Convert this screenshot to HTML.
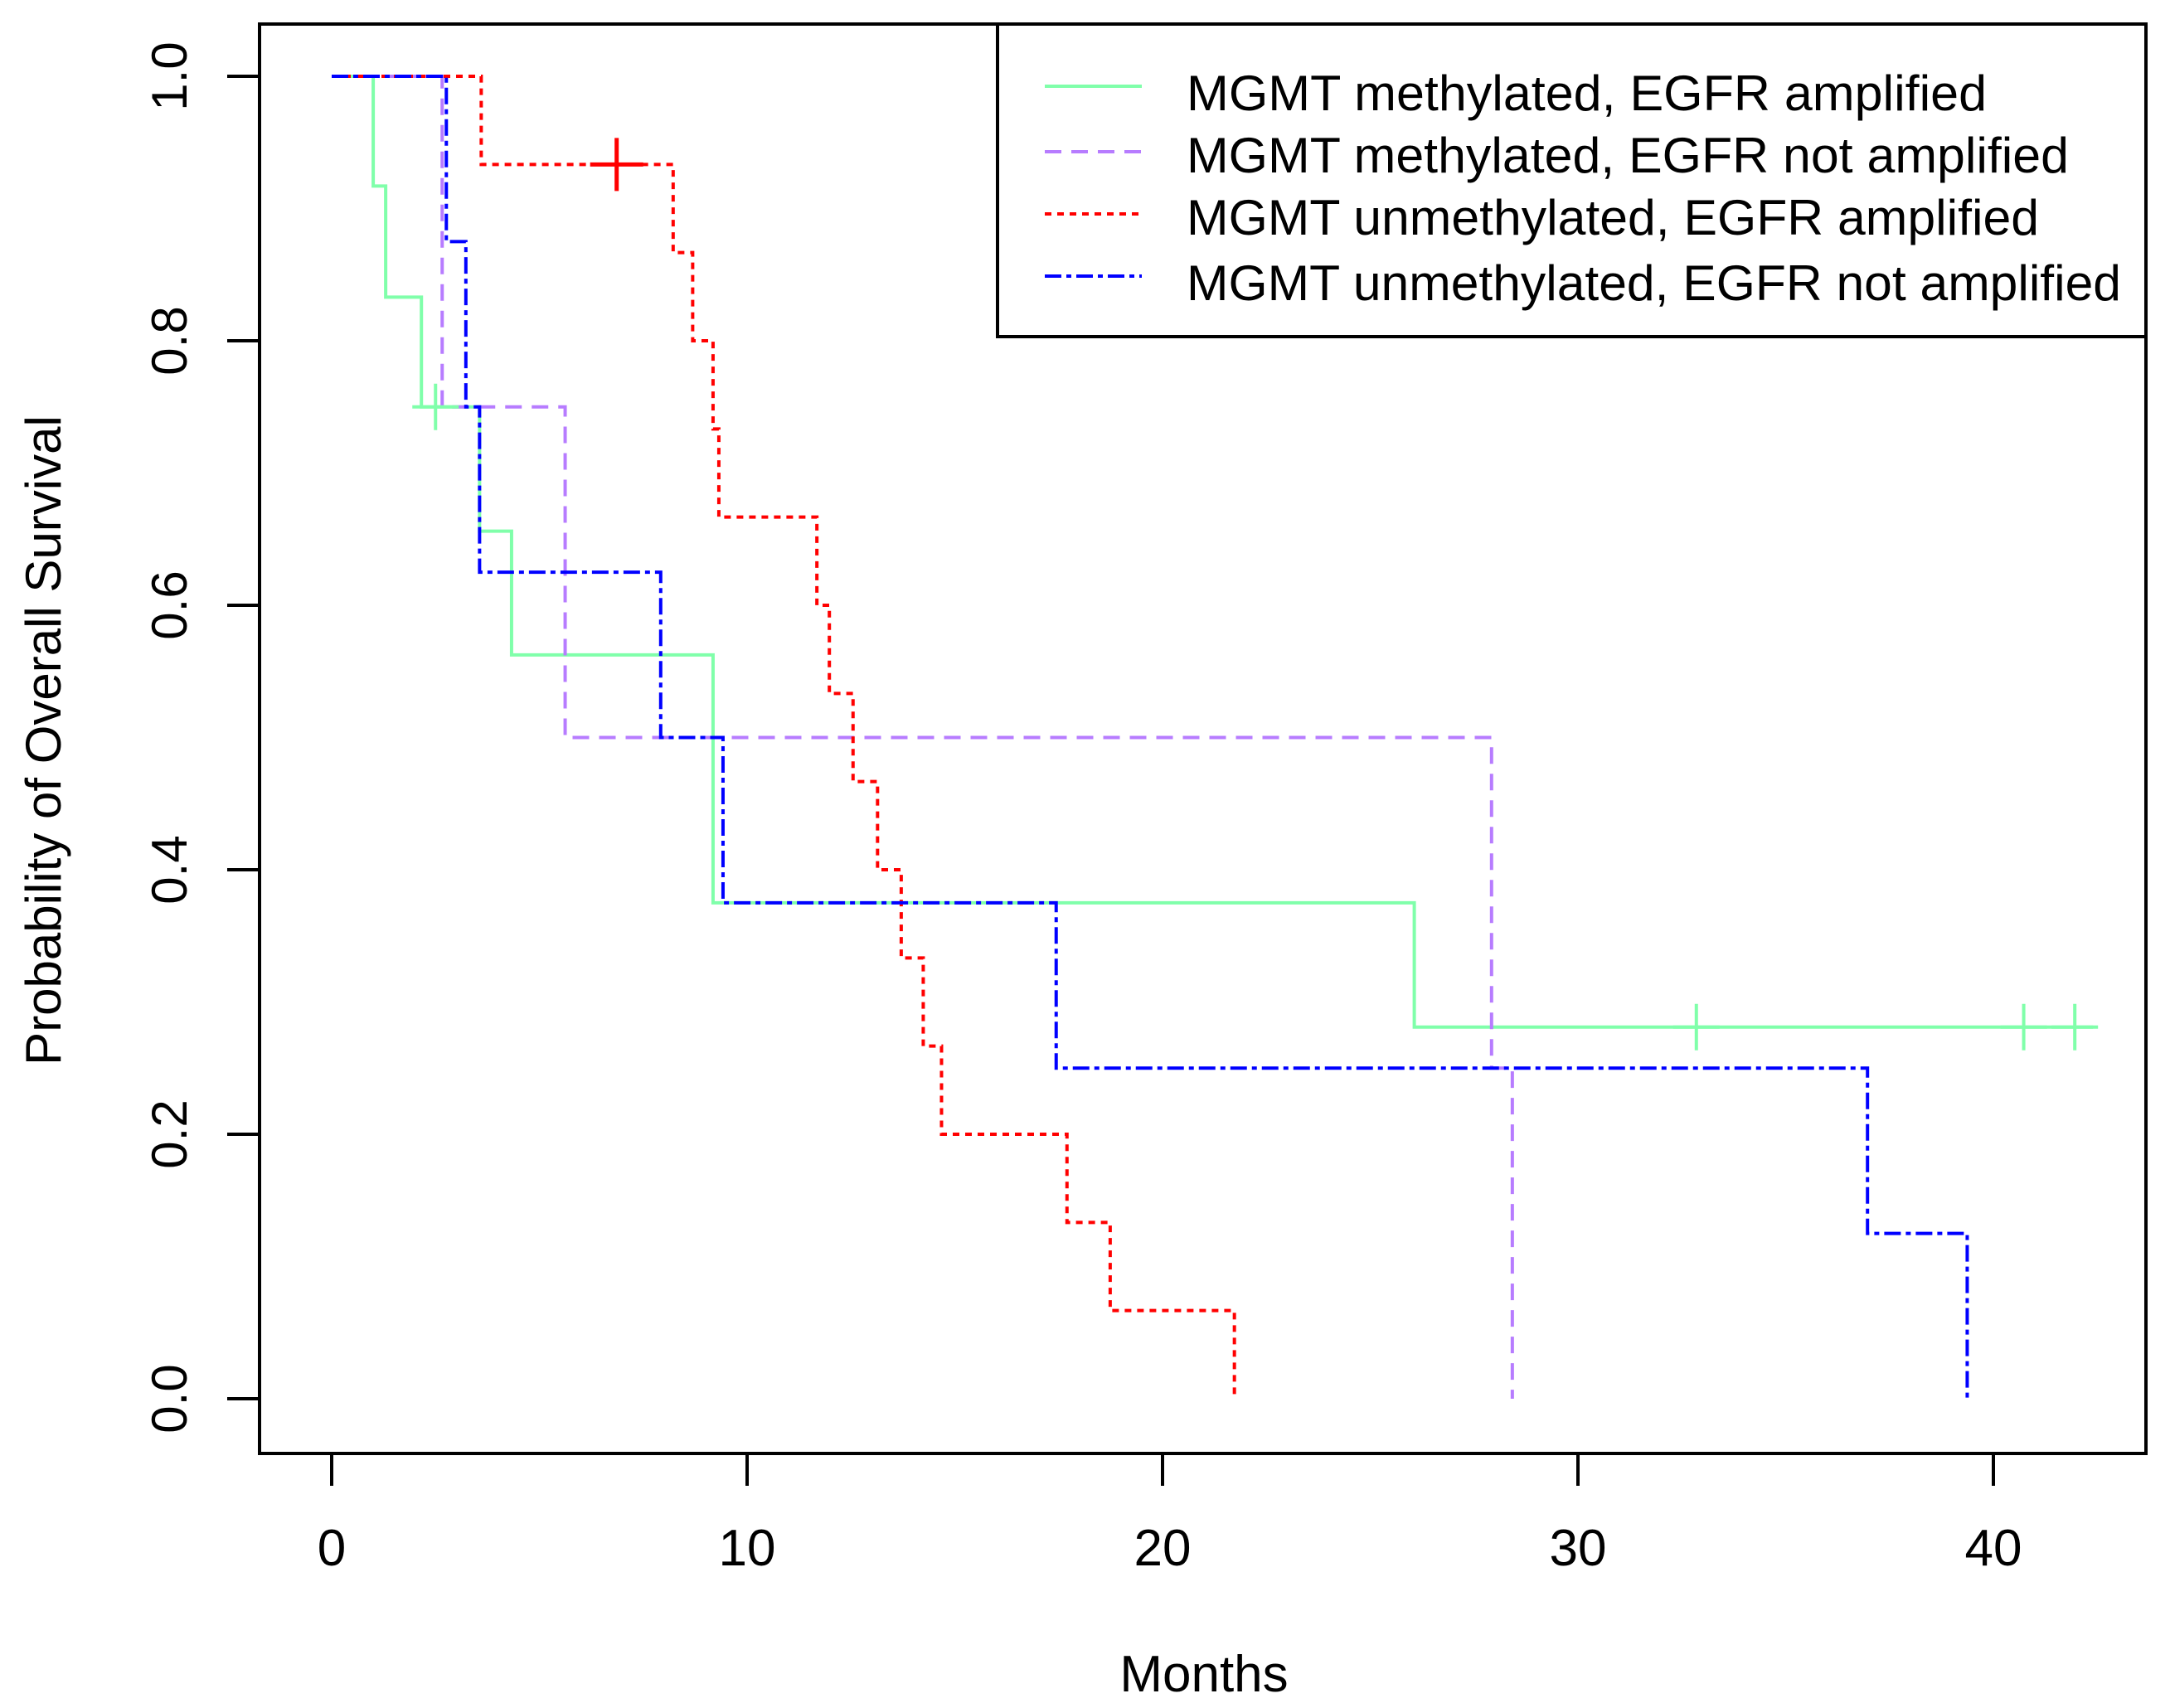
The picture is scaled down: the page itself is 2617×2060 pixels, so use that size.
<!DOCTYPE html>
<html><head><meta charset="utf-8"><style>html,body{margin:0;padding:0;background:#fff}svg{display:block}text{font-family:"Liberation Sans",Arial,sans-serif;fill:#000}</style></head>
<body>
<svg id="chart" width="2617" height="2060" viewBox="0 0 2617 2060" xmlns="http://www.w3.org/2000/svg">
<rect x="0" y="0" width="2617" height="2060" fill="#fff"/>
<g id="series"></g>
<rect x="313" y="29" width="2275" height="1724" fill="none" stroke="#000" stroke-width="4"/>
<g id="axes"></g>
<text x="1452" y="2040" font-size="62" text-anchor="middle">Months</text>
<text transform="translate(73,893) rotate(-90)" font-size="60" text-anchor="middle">Probability of Overall Survival</text>
<g>
<rect x="1203" y="29" width="1385" height="377" fill="#fff" stroke="#000" stroke-width="4"/>
<line x1="1260" y1="104" x2="1377" y2="104" stroke="#80ffaa" stroke-width="4"/>
<line x1="1260" y1="183" x2="1377" y2="183" stroke="#b77cff" stroke-width="4" stroke-dasharray="20 12"/>
<line x1="1260" y1="258" x2="1377" y2="258" stroke="#ff0000" stroke-width="4" stroke-dasharray="8 7"/>
<line x1="1260" y1="333" x2="1377" y2="333" stroke="#0000ff" stroke-width="4" stroke-dasharray="20 6 6 6"/>
<text x="1431" y="133" font-size="60" textLength="965" lengthAdjust="spacingAndGlyphs">MGMT methylated, EGFR amplified</text>
<text x="1431" y="208" font-size="60" textLength="1064" lengthAdjust="spacingAndGlyphs">MGMT methylated, EGFR not amplified</text>
<text x="1431" y="283" font-size="60" textLength="1028" lengthAdjust="spacingAndGlyphs">MGMT unmethylated, EGFR amplified</text>
<text x="1431" y="362" font-size="60" textLength="1127" lengthAdjust="spacingAndGlyphs">MGMT unmethylated, EGFR not amplified</text>
</g>
</svg>
<script>
const xTicks = [0, 10, 20, 30, 40];
const yTicks = [0, 0.2, 0.4, 0.6, 0.8, 1.0];
const yTickLabels = ["0.0", "0.2", "0.4", "0.6", "0.8", "1.0"];
const greenTimes = [1.0, 1.3, 2.16, 3.56, 4.33, 9.18, 26.06];
const greenSurv = [0.917, 0.833, 0.75, 0.656, 0.5625, 0.375, 0.281];
const greenEnd = 42.4;
const greenCensor = [2.5, 32.85, 40.73, 41.96];
const purpleTimes = [2.66, 5.62, 27.92, 28.42];
const purpleSurv = [0.75, 0.5, 0.25, 0.0];
const redTimes = [3.6, 8.22, 8.69, 9.18, 9.32, 11.68, 11.98, 12.55, 13.14, 13.71, 14.24, 14.68, 17.7, 18.74, 21.73];
const redSurv = [0.9333, 0.8667, 0.8, 0.7333, 0.6667, 0.6, 0.5333, 0.4667, 0.4, 0.3333, 0.2667, 0.2, 0.1333, 0.0667, 0.0];
const redCensor = [6.86];
const blueTimes = [2.76, 3.23, 3.56, 7.92, 9.42, 17.44, 36.97, 39.37];
const blueSurv = [0.875, 0.75, 0.625, 0.5, 0.375, 0.25, 0.125, 0.0];

const NS = "http://www.w3.org/2000/svg";
function xs(m){ return 400 + m * 50.1; }
function ys(p){ return 1687 - p * 1595; }
const series = document.getElementById('series');
const axes = document.getElementById('axes');

function stepPath(times, surv, end){
  let d = "M" + xs(0) + "," + ys(1);
  let prev = 1;
  for (let i = 0; i < times.length; i++){
    d += " L" + xs(times[i]) + "," + ys(prev) + " L" + xs(times[i]) + "," + ys(surv[i]);
    prev = surv[i];
  }
  if (end !== undefined) d += " L" + xs(end) + "," + ys(prev);
  return d;
}
function survAt(times, surv, t){
  let s = 1;
  for (let i = 0; i < times.length; i++) if (times[i] <= t) s = surv[i];
  return s;
}
function addSeries(name, times, surv, end, color, dash){
  const p = document.createElementNS(NS, 'path');
  p.setAttribute('d', stepPath(times, surv, end));
  p.setAttribute('fill', 'none');
  p.setAttribute('stroke', color);
  p.setAttribute('stroke-width', '4');
  if (dash) p.setAttribute('stroke-dasharray', dash);
  
  
  series.appendChild(p);
}
function addCensor(name, t, s, color, big){
  const h = big ? 32 : 28;
  const cx = xs(t), cy = ys(s);
  const v = document.createElementNS(NS, 'path');
  v.setAttribute('d', "M" + cx + "," + (cy - h) + " L" + cx + "," + (cy + h) + " M" + (cx - h) + "," + cy + " L" + (cx + h) + "," + cy);
  v.setAttribute('stroke', color);
  v.setAttribute('stroke-width', big ? '5' : '4');
  v.setAttribute('fill', 'none');
  
  
  series.appendChild(v);
}
addSeries('green-curve', greenTimes, greenSurv, greenEnd, '#80ffaa', null);
addSeries('purple-curve', purpleTimes, purpleSurv, undefined, '#b77cff', '20 12');
addSeries('red-curve', redTimes, redSurv, undefined, '#ff0000', '8 7');
addSeries('blue-curve', blueTimes, blueSurv, undefined, '#0000ff', '20 6 6 6');
greenCensor.forEach(t => addCensor('green-censor-mark', t, survAt(greenTimes, greenSurv, t), '#80ffaa', false));
redCensor.forEach(t => addCensor('red-censor-mark', t, survAt(redTimes, redSurv, t), '#ff0000', true));

xTicks.forEach(v => {
  const l = document.createElementNS(NS, 'line');
  l.setAttribute('x1', xs(v)); l.setAttribute('x2', xs(v));
  l.setAttribute('y1', 1753); l.setAttribute('y2', 1792);
  l.setAttribute('stroke', '#000'); l.setAttribute('stroke-width', '4');
  
  
  axes.appendChild(l);
  const t = document.createElementNS(NS, 'text');
  t.setAttribute('x', xs(v)); t.setAttribute('y', 1888);
  t.setAttribute('font-size', '62'); t.setAttribute('text-anchor', 'middle');
  t.textContent = String(v);
  
  
  axes.appendChild(t);
});
yTicks.forEach((v, i) => {
  const l = document.createElementNS(NS, 'line');
  l.setAttribute('x1', 274); l.setAttribute('x2', 313);
  l.setAttribute('y1', ys(v)); l.setAttribute('y2', ys(v));
  l.setAttribute('stroke', '#000'); l.setAttribute('stroke-width', '4');
  
  
  axes.appendChild(l);
  const t = document.createElementNS(NS, 'text');
  t.setAttribute('transform', 'translate(225,' + ys(v) + ') rotate(-90)');
  t.setAttribute('font-size', '60'); t.setAttribute('text-anchor', 'middle');
  t.textContent = yTickLabels[i];
  
  
  axes.appendChild(t);
});
</script>
</body></html>
